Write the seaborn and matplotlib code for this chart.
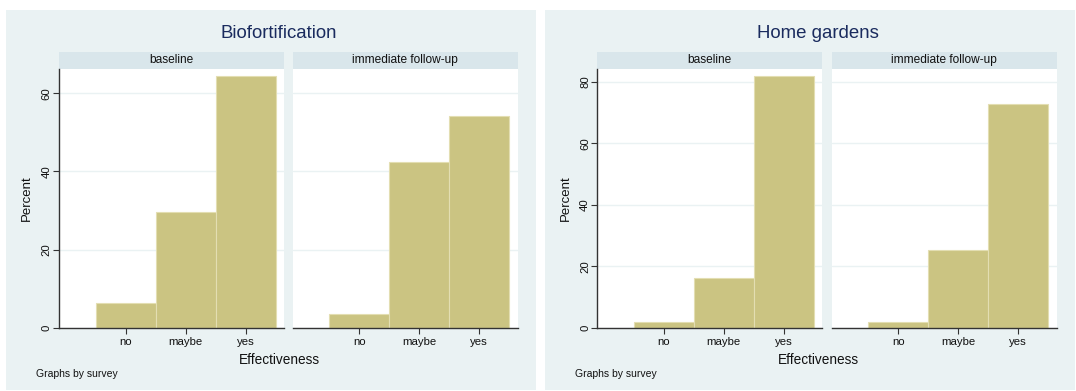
import matplotlib
matplotlib.use("Agg")
import matplotlib.pyplot as plt
import seaborn as sns
import pandas as pd
from matplotlib.patches import Rectangle

# ---- data ----
programs = ["Biofortification", "Home gardens"]
surveys = ["baseline", "immediate follow-up"]
effectiveness = ["no", "maybe", "yes"]
bio_baseline = [6.25, 29.5, 64.3]
bio_followup = [3.5, 42.5, 54.2]
home_baseline = [1.95, 16.2, 81.9]
home_followup = [1.95, 25.2, 72.8]
bio_yticks = [0, 20, 40, 60]
home_yticks = [0, 20, 40, 60, 80]
x_title = "Effectiveness"
y_title = "Percent"
note = "Graphs by survey"

rows = []
for prog, series in [("Biofortification", [bio_baseline, bio_followup]),
                     ("Home gardens", [home_baseline, home_followup])]:
    for surv, vals in zip(surveys, series):
        for cat, v in zip(effectiveness, vals):
            rows.append({"program": prog, "survey": surv, "effectiveness": cat, "percent": v})
df = pd.DataFrame(rows)

sns.set_theme(style="white")
plt.rcParams["font.family"] = ["Liberation Sans", "DejaVu Sans"]

W, H = 1076, 391
fig = plt.figure(figsize=(W / 100, H / 100), dpi=100)

BG = "#EAF2F3"
STRIP = "#D9E6EB"
BAR = "#CBC482"
BAREDGE = "#E3DEB2"
AXC = "#333333"
TITLEC = "#1A2B5E"


def rect(x0, y0, x1, y1):
    return [x0 / W, 1 - y1 / H, (x1 - x0) / W, (y1 - y0) / H]


def add_bg(x0, y0, x1, y1, color):
    fig.patches.append(Rectangle((x0 / W, 1 - y1 / H), (x1 - x0) / W, (y1 - y0) / H,
                                 transform=fig.transFigure, facecolor=color,
                                 edgecolor="none", zorder=-10))


graphs = [
    {"program": "Biofortification", "bg": (6, 10, 536, 390), "center": 279,
     "panels": [(59, 284.4), (292.7, 517.7)], "yticks": bio_yticks, "ymax": 66.2,
     "ylab_x": 27, "note_x": 36},
    {"program": "Home gardens", "bg": (545, 10, 1075, 390), "center": 818,
     "panels": [(597.3, 822.3), (831.7, 1056.7)], "yticks": home_yticks, "ymax": 84.1,
     "ylab_x": 566, "note_x": 575},
]
PT, PB = 69, 327.7
ST = 51.7

for g in graphs:
    add_bg(*g["bg"], BG)
    fig.text(g["center"] / W, 1 - 34 / H, g["program"], ha="center", va="center",
             fontsize=13.4, color=TITLEC)
    fig.text(g["center"] / W, 1 - 360 / H, x_title, ha="center", va="center",
             fontsize=9.8, color="#111111")
    fig.text(g["note_x"] / W, 1 - 374 / H, note, ha="left", va="center",
             fontsize=7.5, color="#111111")
    fig.text(g["ylab_x"] / W, 1 - (PT + PB) / 2 / H, y_title, ha="center", va="center",
             rotation=90, fontsize=9.5, color="#111111")
    for i, (surv, (x0, x1)) in enumerate(zip(surveys, g["panels"])):
        add_bg(x0, ST, x1, PT, STRIP)
        fig.text((x0 + x1) / 2 / W, 1 - (ST + PT) / 2 / H, surv, ha="center",
                 va="center", fontsize=8.6, color="#111111")
        ax = fig.add_axes(rect(x0, PT, x1, PB))
        ax.set_zorder(1)
        sub = df[(df["program"] == g["program"]) & (df["survey"] == surv)]
        sns.barplot(data=sub, x="effectiveness", y="percent", order=effectiveness,
                    color=BAR, saturation=1, width=1.0, edgecolor=BAREDGE,
                    linewidth=0.8, ax=ax, errorbar=None, zorder=2)
        ax.set_facecolor("white")
        ax.set_xlim(-1.11, 2.64)
        ax.set_ylim(0, g["ymax"])
        ax.set_yticks(g["yticks"])
        ax.grid(axis="y", color=BG, linewidth=1.0)
        ax.grid(axis="x", visible=False)
        ax.set_axisbelow(True)
        ax.set_xlabel("")
        ax.set_ylabel("")
        for s in ["top", "right"]:
            ax.spines[s].set_visible(False)
        ax.spines["bottom"].set_color(AXC)
        ax.spines["bottom"].set_linewidth(1.0)
        ax.tick_params(axis="x", length=4, width=0.8, color=AXC, labelsize=8.2,
                       pad=3, labelcolor="#111111", bottom=True)
        if i == 0:
            ax.spines["left"].set_color(AXC)
            ax.spines["left"].set_linewidth(1.0)
            ax.tick_params(axis="y", length=4, width=0.8, color=AXC, labelsize=8.2,
                           pad=1.2, labelcolor="#111111", left=True, labelrotation=90)
            for lbl in ax.get_yticklabels():
                lbl.set_va("center")
        else:
            ax.spines["left"].set_visible(False)
            ax.tick_params(axis="y", left=False, labelleft=False)

fig.savefig("out.png", dpi=100, facecolor="white")
